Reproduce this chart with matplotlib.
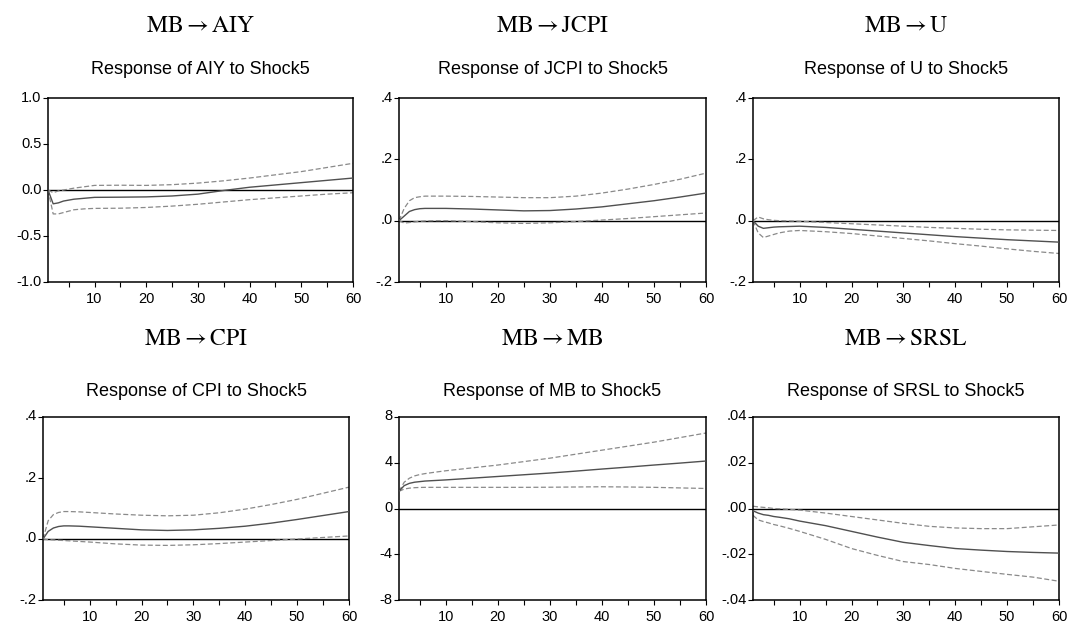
import matplotlib
matplotlib.use("Agg")
import matplotlib.pyplot as plt
from matplotlib.ticker import FixedLocator, FuncFormatter
from matplotlib.transforms import ScaledTranslation

plt.rcParams["mathtext.fontset"] = "stix"

# ---------------- data ----------------
periods = [1, 2, 3, 4, 5, 6, 8, 10, 15, 20, 25, 30, 35, 40, 45, 50, 55, 60]

aiy_resp  = [0.0, -0.15, -0.14, -0.12, -0.11, -0.10, -0.09, -0.08, -0.078, -0.075, -0.065, -0.045, -0.005, 0.03, 0.055, 0.08, 0.105, 0.13]
aiy_upper = [0.0, -0.03, -0.01, 0.0, 0.01, 0.02, 0.035, 0.05, 0.052, 0.05, 0.058, 0.075, 0.10, 0.13, 0.165, 0.20, 0.245, 0.29]
aiy_lower = [0.0, -0.26, -0.26, -0.245, -0.23, -0.215, -0.205, -0.20, -0.198, -0.19, -0.175, -0.155, -0.13, -0.105, -0.085, -0.065, -0.045, -0.03]

jcpi_resp  = [0.0, 0.015, 0.03, 0.036, 0.039, 0.040, 0.040, 0.040, 0.038, 0.035, 0.032, 0.033, 0.038, 0.045, 0.055, 0.065, 0.077, 0.09]
jcpi_upper = [0.0, 0.04, 0.065, 0.075, 0.078, 0.08, 0.08, 0.08, 0.079, 0.077, 0.075, 0.075, 0.08, 0.09, 0.103, 0.118, 0.135, 0.155]
jcpi_lower = [0.0, -0.008, -0.006, -0.004, -0.002, -0.001, 0.0, 0.0, -0.003, -0.007, -0.009, -0.007, -0.003, 0.002, 0.007, 0.013, 0.019, 0.025]

u_resp  = [0.0, -0.018, -0.025, -0.023, -0.021, -0.02, -0.019, -0.018, -0.022, -0.028, -0.034, -0.04, -0.046, -0.052, -0.057, -0.062, -0.066, -0.07]
u_upper = [0.0, 0.012, 0.006, 0.003, 0.001, 0.0, -0.001, -0.002, -0.006, -0.01, -0.014, -0.018, -0.022, -0.025, -0.028, -0.03, -0.031, -0.032]
u_lower = [0.0, -0.04, -0.055, -0.05, -0.045, -0.04, -0.034, -0.032, -0.036, -0.042, -0.05, -0.058, -0.066, -0.075, -0.083, -0.092, -0.1, -0.107]

cpi_resp  = [0.0, 0.025, 0.036, 0.041, 0.043, 0.043, 0.042, 0.040, 0.035, 0.030, 0.028, 0.030, 0.035, 0.042, 0.052, 0.064, 0.077, 0.09]
cpi_upper = [0.0, 0.06, 0.08, 0.087, 0.09, 0.09, 0.089, 0.087, 0.082, 0.078, 0.076, 0.078, 0.086, 0.098, 0.113, 0.13, 0.15, 0.17]
cpi_lower = [0.0, -0.002, -0.003, -0.004, -0.005, -0.006, -0.008, -0.01, -0.016, -0.02, -0.021, -0.019, -0.015, -0.01, -0.005, 0.0, 0.005, 0.01]

mb_resp  = [1.5, 2.0, 2.2, 2.3, 2.35, 2.4, 2.45, 2.5, 2.65, 2.8, 2.95, 3.1, 3.27, 3.45, 3.62, 3.8, 3.97, 4.15]
mb_upper = [1.5, 2.3, 2.65, 2.85, 2.97, 3.05, 3.18, 3.3, 3.55, 3.8, 4.1, 4.4, 4.75, 5.1, 5.45, 5.8, 6.2, 6.6]
mb_lower = [1.5, 1.7, 1.78, 1.82, 1.84, 1.85, 1.85, 1.85, 1.85, 1.85, 1.85, 1.86, 1.88, 1.9, 1.88, 1.85, 1.8, 1.75]

srsl_resp  = [-0.001, -0.002, -0.0027, -0.003, -0.0035, -0.0038, -0.0045, -0.0055, -0.0075, -0.010, -0.0125, -0.0148, -0.0162, -0.0175, -0.0182, -0.0188, -0.0192, -0.0195]
srsl_upper = [0.001, 0.0007, 0.0005, 0.0003, 0.0, -0.0001, -0.0004, -0.0007, -0.002, -0.0035, -0.005, -0.0065, -0.0078, -0.0085, -0.0088, -0.0088, -0.008, -0.0072]
srsl_lower = [-0.003, -0.005, -0.0057, -0.0063, -0.007, -0.0075, -0.0087, -0.010, -0.0135, -0.0175, -0.0205, -0.0232, -0.0245, -0.0262, -0.0275, -0.0288, -0.030, -0.0318]

shock_name = "MB"
target_names = ["AIY", "JCPI", "U", "CPI", "MB", "SRSL"]
sub_titles = ["Response of AIY to Shock5", "Response of JCPI to Shock5", "Response of U to Shock5",
              "Response of CPI to Shock5", "Response of MB to Shock5", "Response of SRSL to Shock5"]

ytick_vals = [[-1.0, -0.5, 0.0, 0.5, 1.0],
              [-0.2, 0.0, 0.2, 0.4],
              [-0.2, 0.0, 0.2, 0.4],
              [-0.2, 0.0, 0.2, 0.4],
              [-8, -4, 0, 4, 8],
              [-0.04, -0.02, 0.0, 0.02, 0.04]]
ytick_labels = [["-1.0", "-0.5", "0.0", "0.5", "1.0"],
                ["-.2", ".0", ".2", ".4"],
                ["-.2", ".0", ".2", ".4"],
                ["-.2", ".0", ".2", ".4"],
                ["-8", "-4", "0", "4", "8"],
                ["-.04", "-.02", ".00", ".02", ".04"]]

xticks = [5, 10, 15, 20, 25, 30, 35, 40, 45, 50, 55, 60]

series = [(aiy_resp, aiy_upper, aiy_lower),
          (jcpi_resp, jcpi_upper, jcpi_lower),
          (u_resp, u_upper, u_lower),
          (cpi_resp, cpi_upper, cpi_lower),
          (mb_resp, mb_upper, mb_lower),
          (srsl_resp, srsl_upper, srsl_lower)]

# ---------------- layout (pixels) ----------------
W, H = 1069, 625
boxes = [(48, 353, 98, 282), (399, 706, 98, 282), (753, 1059, 98, 282),
         (43, 349, 417, 600), (399, 706, 417, 600), (753, 1059, 417, 600)]
main_y = [25, 25, 25, 338, 338, 338]
sub_y = [70, 70, 70, 392, 392, 392]

fig = plt.figure(figsize=(W / 100, H / 100), dpi=100)
fig.patch.set_facecolor("white")
up_shift = ScaledTranslation(0, 2.0 / 100, fig.dpi_scale_trans)

for i, (l, r, t, b) in enumerate(boxes):
    ax = fig.add_axes([l / W, 1 - b / H, (r - l) / W, (b - t) / H])
    resp, up, lo = series[i]
    ax.axhline(0, color="black", lw=1.0, zorder=1)
    ax.plot(periods, resp, color="#505050", lw=1.0, zorder=3)
    ax.plot(periods, up, color="#8a8a8a", lw=0.9, dashes=(4, 2), zorder=2)
    ax.plot(periods, lo, color="#8a8a8a", lw=0.9, dashes=(4, 2), zorder=2)
    ax.set_xlim(1, 60)
    yv = ytick_vals[i]
    ax.set_ylim(yv[0], yv[-1])
    ax.set_yticks(yv)
    ax.set_yticklabels(ytick_labels[i])
    ax.xaxis.set_major_locator(FixedLocator(xticks))
    ax.xaxis.set_major_formatter(FuncFormatter(lambda v, p: f"{int(v)}" if int(v) % 10 == 0 else ""))
    ax.tick_params(axis="both", direction="out", length=3.5, width=0.8, labelsize=10.5,
                   colors="black")
    ax.tick_params(axis="x", pad=4)
    ax.tick_params(axis="y", pad=1)
    for s in ax.spines.values():
        s.set_linewidth(1.1)
        s.set_color("black")
    for lab in ax.get_xticklabels() + ax.get_yticklabels():
        lab.set_fontfamily(["Liberation Sans", "DejaVu Sans"])
    for lab in ax.get_yticklabels():
        lab.set_transform(lab.get_transform() + up_shift)
    cx = (l + r) / 2 / W
    title = r"$\mathrm{%s}{\rightarrow}\mathrm{%s}$" % (shock_name, target_names[i])
    fig.text(cx, 1 - main_y[i] / H, title, ha="center", va="center", fontsize=17)
    fig.text(cx, 1 - sub_y[i] / H, sub_titles[i], ha="center", va="center",
             fontsize=13, family=["Liberation Sans", "DejaVu Sans"])

fig.savefig("out.png", dpi=100, facecolor="white")
